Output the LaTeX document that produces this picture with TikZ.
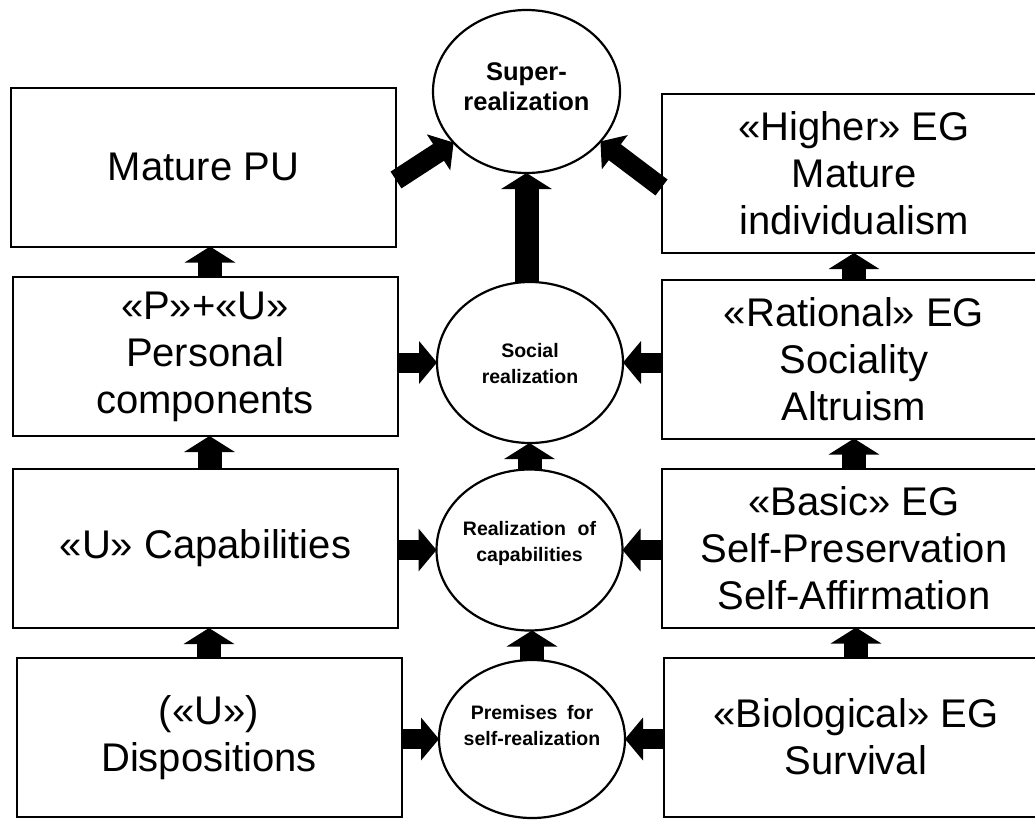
\documentclass[tikz,border=0pt]{standalone}
\usepackage{fontspec}
\setmainfont{Liberation Sans}
\usetikzlibrary{arrows.meta,shapes.geometric,calc}

\begin{document}
\begin{tikzpicture}[x=1pt,y=-1pt]
	\tikzset{box/.style = {shape=rectangle, draw, line width=2pt, minimum width=385pt, minimum height=159pt, inner sep=0pt, outer sep=0pt, align=center, font=\fontsize{40}{47}\selectfont}}
	\tikzset{goal/.style = {shape=ellipse, draw, line width=2.2pt, minimum width=186pt, minimum height=161pt, inner sep=0pt, outer sep=0pt}}
	\tikzset{goaltext/.style = {align=center, inner sep=0pt, font=\bfseries\fontsize{19.5}{26}\selectfont}}
	\tikzset{harrow/.style = {line width=20pt, -{Triangle[width=42pt, length=18pt]}}}
	\tikzset{varrow/.style = {line width=24pt, -{Triangle[width=50pt, length=16pt]}}}
	\path[use as bounding box, fill=white] (0,0) rectangle (1035,819);
	% left column
	\node[box] (mature) at (203.5, 167) {Mature PU};
	\node[box] (pu) at (205, 356.5) {«P»+«U»\\Personal\\components};
	\node[box] (cap) at (205.5, 548.5) {«U» Capabilities};
	\node[box] (disp) at (209, 737.5) {(«U»)\\Dispositions};
	% right column
	\node[box] (higher) at (854, 173.5) {«Higher» EG\\Mature\\individualism};
	\node[box] (rational) at (854, 359) {«Rational» EG\\Sociality\\Altruism};
	\node[box] (basic) at (854, 548) {«Basic» EG\\Self-Preservation\\Self-Affirmation};
	\node[box] (bio) at (856, 737) {«Biological» EG\\Survival};
	% middle column
	\node[goal, minimum width=187pt, minimum height=163pt] (super) at (526.5, 91.5) {};
	\node[goal] (social) at (530, 362.5) {};
	\node[goal] (real) at (529.5, 550) {};
	\node[goal, minimum height=158pt] (prem) at (532, 739) {};
	\node[goaltext, font=\bfseries\fontsize{25.5}{30}\selectfont] (supertext) at (526.5, 86.5) {Super-\\realization};
	\node[goaltext] (socialtext) at (530, 363.5) {Social\\realization};
	\node[goaltext] (realtext) at (529.5, 543.5) {Realization\hspace{0.6em}of\\capabilities};
	\node[goaltext] (premtext) at (532, 725.5) {Premises\hspace{0.5em}for\\self-realization};
	% arrows up
	\draw[varrow] ($(pu.north)+(5,0)$) -- ($(pu.north |- mature.south)+(5,0)$);
	\draw[varrow] ($(cap.north)+(4,0)$) -- ($(cap.north |- pu.south)+(4,0)$);
	\draw[varrow] (disp.north) -- (disp.north |- cap.south);
	\draw[varrow] (rational.north) -- (rational.north |- higher.south);
	\draw[varrow] (basic.north) -- (basic.north |- rational.south);
	\draw[varrow] (bio.north) -- (bio.north |- basic.south);
	\draw[varrow] (super.south |- social.north) -- (super.south);
	\draw[varrow] (real.north) -- (real.north |- social.south);
	\draw[varrow] (prem.north) -- (prem.north |- real.south);
	% arrows into the middle
	\draw[harrow] (pu.east |- social.west) -- (social.west);
	\draw[harrow] (cap.east |- real.west) -- (real.west);
	\draw[harrow] (disp.east |- prem.west) -- (prem.west);
	\draw[harrow] (rational.west |- social.east) -- (social.east);
	\draw[harrow] (basic.west |- real.east) -- (real.east);
	\draw[harrow] (bio.west |- prem.east) -- (prem.east);
	\draw[harrow] ($(mature.east)+(0,13)$) -- (super.215);
	\draw[harrow] ($(higher.west)+(0,14)$) -- (super.326);
\end{tikzpicture}
\end{document}
